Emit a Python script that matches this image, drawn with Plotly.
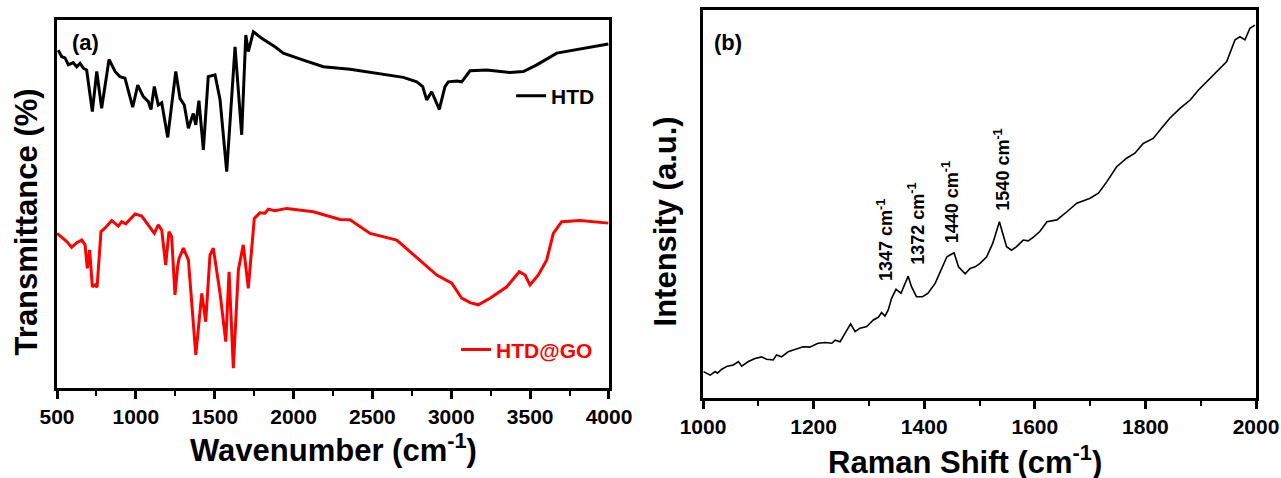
import plotly.graph_objects as go

# ---------------- data ----------------
# (a) FTIR, HTD
htd_wn = [508, 530, 551, 572, 603, 625, 646, 667, 688, 724, 752, 783, 804, 830, 868, 899, 931, 980,
          1012, 1047, 1079, 1096, 1117, 1142, 1164, 1202, 1253, 1280, 1307, 1333, 1364, 1380, 1400,
          1428, 1459, 1502, 1534, 1576, 1629, 1671, 1697, 1713, 1745, 1798, 1882, 1935, 2062, 2189,
          2358, 2548, 2696, 2781, 2819, 2844, 2876, 2924, 2960, 2981, 3035, 3066, 3119, 3225, 3372,
          3457, 3542, 3669, 3795, 3996]
htd_t = [91.8, 90.0, 89.7, 87.8, 88.4, 87.3, 88.2, 86.9, 86.4, 75.1, 86.0, 76.0, 81.9, 89.3, 86.0,
         84.6, 84.2, 76.3, 82.3, 79.2, 77.8, 75.7, 81.9, 76.9, 77.5, 68.1, 86.0, 78.7, 76.9, 70.6,
         74.6, 71.5, 78.1, 64.7, 84.6, 85.1, 78.3, 58.8, 92.7, 68.8, 95.9, 91.4, 96.8, 95.0, 92.7,
         91.0, 89.1, 87.3, 86.6, 85.3, 84.4, 83.2, 81.9, 78.3, 80.5, 75.7, 81.9, 83.2, 83.4, 83.2,
         86.2, 86.4, 85.7, 86.0, 87.8, 91.0, 92.0, 93.5]

# (a) FTIR, HTD@GO
go_wn = [500, 530, 562, 593, 625, 657, 678, 692, 707, 724, 741, 754, 779, 804, 847, 889, 910, 936,
         995, 1037, 1090, 1117, 1142, 1164, 1189, 1210, 1227, 1248, 1265, 1274, 1301, 1333, 1380,
         1418, 1443, 1470, 1491, 1534, 1570, 1591, 1618, 1650, 1681, 1713, 1751, 1787, 1819, 1840,
         1882, 1957, 2125, 2295, 2358, 2485, 2654, 2802, 2908, 3003, 3066, 3119, 3171, 3246, 3352,
         3431, 3468, 3499, 3552, 3605, 3647, 3700, 3816, 3996]
go_t = [42.0, 41.0, 39.8, 38.2, 39.5, 40.2, 38.9, 32.5, 37.5, 27.5, 28.0, 27.4, 42.5, 43.4, 45.5,
        44.0, 45.2, 44.6, 47.3, 46.7, 43.4, 42.0, 44.3, 42.9, 33.4, 42.5, 41.1, 25.3, 33.0, 35.2,
        38.0, 34.8, 9.0, 25.7, 18.0, 36.1, 38.0, 25.7, 12.6, 31.6, 5.4, 32.1, 38.9, 27.1, 46.1,
        47.6, 47.5, 48.6, 48.2, 48.8, 47.9, 45.8, 45.7, 42.0, 40.2, 34.8, 30.7, 28.5, 24.4, 23.2,
        22.6, 24.4, 27.5, 31.6, 30.7, 28.0, 30.7, 34.8, 42.0, 45.2, 45.5, 44.8]

# (b) Raman
raman_x = [1001, 1013, 1022, 1026, 1034, 1044, 1055, 1064, 1070, 1082, 1094, 1106, 1115, 1127, 1133,
           1142, 1154, 1166, 1181, 1193, 1208, 1221, 1233, 1239, 1248, 1257, 1267, 1275, 1284, 1296,
           1308, 1317, 1323, 1329, 1335, 1341, 1349, 1358, 1364, 1371, 1377, 1386, 1397, 1407, 1420,
           1432, 1441, 1450, 1454, 1462, 1474, 1483, 1492, 1501, 1513, 1524, 1531, 1536, 1542, 1549,
           1558, 1567, 1579, 1588, 1597, 1609, 1622, 1640, 1658, 1676, 1700, 1715, 1730, 1748, 1766,
           1781, 1796, 1814, 1829, 1844, 1863, 1881, 1896, 1911, 1929, 1947, 1962, 1971, 1980, 1989,
           1998]
raman_i = [6.8, 5.9, 6.8, 6.4, 7.4, 8.2, 8.5, 9.4, 8.2, 9.4, 10.2, 10.6, 10.0, 9.8, 11.1, 10.6, 11.9,
           12.4, 13.2, 13.1, 14.1, 14.3, 14.1, 14.9, 14.5, 16.7, 19.1, 17.1, 18.0, 18.4, 20.1, 20.8,
           22.0, 21.1, 22.7, 25.7, 28.0, 27.0, 28.9, 31.4, 28.7, 26.1, 26.1, 27.0, 29.6, 33.4, 36.4,
           37.1, 37.4, 33.8, 32.0, 33.4, 33.8, 34.7, 36.4, 39.9, 43.3, 45.4, 42.4, 39.0, 38.1, 39.0,
           40.7, 40.5, 41.4, 42.9, 45.4, 45.9, 48.0, 50.2, 51.5, 52.8, 55.7, 59.6, 61.8, 63.1, 65.6,
           66.9, 69.5, 72.1, 74.7, 76.8, 79.4, 81.5, 84.1, 86.7, 92.3, 93.1, 92.3, 95.3, 96.1]

peak_labels = ["1347", "1372", "1440", "1540"]
series_names = ["HTD", "HTD@GO"]

# ---------------- styling ----------------
FONT = "Liberation Sans, Arial, Helvetica, sans-serif"
RED = "#ff0000"

fig = go.Figure()
fig.add_trace(go.Scatter(x=htd_wn, y=htd_t, mode="lines", name=series_names[0],
                         line=dict(color="black", width=3), xaxis="x", yaxis="y",
                         legend="legend"))
fig.add_trace(go.Scatter(x=go_wn, y=go_t, mode="lines", name=series_names[1],
                         line=dict(color=RED, width=3), xaxis="x", yaxis="y",
                         legend="legend2"))
fig.add_trace(go.Scatter(x=raman_x, y=raman_i, mode="lines", name="Raman",
                         line=dict(color="black", width=1.6), xaxis="x2", yaxis="y2",
                         showlegend=False))

axis_common = dict(showline=True, linewidth=2.5, linecolor="black", mirror=True,
                   showgrid=False, zeroline=False, automargin=False)
tickfont = dict(family=FONT, size=21, color="black", weight="bold")

fig.update_layout(
    width=1281, height=478,
    margin=dict(l=0, r=0, t=0, b=0, pad=0, autoexpand=False),
    paper_bgcolor="white", plot_bgcolor="white",
    font=dict(family=FONT, color="black"),
    xaxis=dict(domain=[0.0445, 0.4754], range=[500, 4000], anchor="y",
               tick0=500, dtick=500, ticks="outside", ticklen=8, tickwidth=2.5,
               tickcolor="black", tickfont=tickfont,
               minor=dict(dtick=250, ticks="outside", ticklen=5, tickwidth=2, tickcolor="black"),
               **axis_common),
    yaxis=dict(domain=[0.1883, 0.9582], range=[0, 100], anchor="x",
               showticklabels=False, ticks="", **axis_common),
    xaxis2=dict(domain=[0.5488, 0.9805], range=[1000, 2000], anchor="y2",
                tick0=1000, dtick=200, ticks="outside", ticklen=8, tickwidth=2.5,
                tickcolor="black", tickfont=tickfont,
                minor=dict(dtick=100, ticks="outside", ticklen=5, tickwidth=2, tickcolor="black"),
                **axis_common),
    yaxis2=dict(domain=[0.1674, 0.9791], range=[0, 100], anchor="x2",
                showticklabels=False, ticks="", **axis_common),
    legend=dict(x=0.399, y=0.799, xanchor="left", yanchor="middle",
                bgcolor="rgba(0,0,0,0)", borderwidth=0,
                font=dict(family=FONT, size=21, color="black", weight="bold")),
    legend2=dict(x=0.356, y=0.268, xanchor="left", yanchor="middle",
                 bgcolor="rgba(0,0,0,0)", borderwidth=0,
                 font=dict(family=FONT, size=21, color=RED, weight="bold")),
)

title_font = dict(family=FONT, size=31, color="black", weight="bold")
annos = [
    dict(text="Wavenumber (cm<sup>-1</sup>)", xref="paper", yref="paper", x=0.2605, y=0.0628,
         xanchor="center", yanchor="middle", showarrow=False, font=title_font),
    dict(text="Raman Shift (cm<sup>-1</sup>)", xref="paper", yref="paper", x=0.7535, y=0.037,
         xanchor="center", yanchor="middle", showarrow=False, font=title_font),
    dict(text="Transmittance (%)", xref="paper", yref="paper", x=0.021, y=0.5366,
         xanchor="center", yanchor="middle", textangle=-90, showarrow=False, font=title_font),
    dict(text="Intensity (a.u.)", xref="paper", yref="paper", x=0.5195, y=0.5377,
         xanchor="center", yanchor="middle", textangle=-90, showarrow=False, font=title_font),
    dict(text="(a)", xref="paper", yref="paper", x=0.0546, y=0.912, xanchor="left",
         yanchor="middle", showarrow=False,
         font=dict(family=FONT, size=22, color="black", weight="bold")),
    dict(text="(b)", xref="paper", yref="paper", x=0.5558, y=0.912, xanchor="left",
         yanchor="middle", showarrow=False,
         font=dict(family=FONT, size=22, color="black", weight="bold")),
]
# peak label placements (x in cm-1, y = bottom of rotated text in panel (b) units)
peak_pos = [(1329, 29.6), (1387, 33.8), (1447, 39.4), (1542, 47.7)]
for lab, (px, py) in zip(peak_labels, peak_pos):
    annos.append(dict(text=f"{lab} cm<sup>-1</sup>", xref="x2", yref="y2", x=px, y=py,
                      xanchor="center", yanchor="bottom", textangle=-90, showarrow=False,
                      font=dict(family=FONT, size=18, color="black", weight="bold")))
fig.update_layout(annotations=annos)

# remove the browser's default 8px page margin so the figure sits at the window's corner
fig.write_html("out.html", config={"displayModeBar": False},
               post_script="document.body.style.margin='0';document.body.style.overflow='hidden';")
